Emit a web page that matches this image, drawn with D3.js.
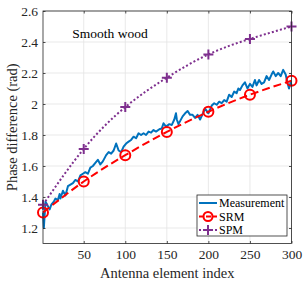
<!DOCTYPE html>
<html>
<head>
<meta charset="utf-8">
<script src="https://cdn.jsdelivr.net/npm/d3@7"></script>
<style>
  html, body { margin: 0; padding: 0; background: #fff; }
  svg { display: block; font-family: "Liberation Serif", "Times New Roman", serif; }
</style>
</head>
<body>
<svg id="chart" width="305" height="282"></svg>
<script>
// ---------- data ----------
const xTicks = [50, 100, 150, 200, 250, 300];
const yTicks = [1.2, 1.4, 1.6, 1.8, 2.0, 2.2, 2.4, 2.6];

const modelIndex = [1, 50, 100, 150, 200, 250, 300];
const srmValues  = [1.30, 1.50, 1.67, 1.82, 1.95, 2.06, 2.15];
const spmValues  = [1.35, 1.71, 1.98, 2.17, 2.32, 2.42, 2.50];

const measIndex = [1, 2, 4, 6, 9, 11, 14, 16, 19, 21, 22, 25, 28, 31, 34, 37, 40, 43, 46, 49,
  52, 55, 58, 61, 64, 67, 70, 73, 77, 80, 83, 86, 89, 92, 95, 98, 101, 104, 107, 110,
  113, 116, 119, 122, 125, 128, 131, 134, 137, 141, 144, 146, 149, 153, 156, 159, 161, 162, 164, 169,
  172, 175, 178, 181, 184, 187, 190, 193, 196, 200, 204, 207, 210, 213, 216, 219, 222, 225, 228, 231,
  234, 236, 238, 241, 244, 247, 250, 253, 256, 258, 261, 264, 267, 270, 273, 276, 278, 281, 284, 287,
  290, 293, 295, 297, 299, 300];
const measValues = [1.30, 1.20, 1.37, 1.35, 1.32, 1.35, 1.37, 1.39, 1.38, 1.42, 1.39, 1.44, 1.41, 1.47, 1.48, 1.49, 1.51, 1.50, 1.54, 1.55,
  1.56, 1.55, 1.59, 1.60, 1.62, 1.64, 1.61, 1.63, 1.67, 1.69, 1.68, 1.70, 1.745, 1.70, 1.69, 1.725, 1.745, 1.757, 1.768, 1.789,
  1.779, 1.811, 1.80, 1.811, 1.80, 1.822, 1.815, 1.832, 1.822, 1.837, 1.843, 1.876, 1.854, 1.87, 1.865, 1.90, 1.94, 1.90, 1.87, 1.92,
  1.94, 1.955, 1.93, 1.93, 1.91, 1.93, 1.90, 1.935, 1.97, 1.94, 1.99, 2.005, 1.995, 2.015, 2.005, 2.025, 2.015, 2.06, 2.045, 2.08,
  2.07, 2.10, 2.09, 2.12, 2.14, 2.10, 2.13, 2.11, 2.155, 2.12, 2.155, 2.13, 2.14, 2.18, 2.155, 2.19, 2.21, 2.18, 2.20, 2.18,
  2.22, 2.19, 2.14, 2.10, 2.14, 2.12];

const seriesNames = ["Measurement", "SRM", "SPM"];

// ---------- layout ----------
const svg = d3.select("#chart");
const pL = 43, pR = 291.5, pT = 11, pB = 243.5;
const axisColor = "#262626";
const gridColor = "#e3e3e3";
const cBlue = "#0072BD", cRed = "#FF0000", cPurple = "#7E2F8E";

const x = d3.scaleLinear().domain([1, 300]).range([pL, pR]);
const y = d3.scaleLinear().domain([1.1, 2.6]).range([pB, pT]);

// grid
const g = svg.append("g");
g.selectAll("line.gx").data(xTicks).join("line")
  .attr("x1", d => x(d)).attr("x2", d => x(d))
  .attr("y1", pT).attr("y2", pB)
  .attr("stroke", gridColor).attr("stroke-width", 0.8);
g.selectAll("line.gy").data(yTicks).join("line")
  .attr("y1", d => y(d)).attr("y2", d => y(d))
  .attr("x1", pL).attr("x2", pR)
  .attr("stroke", gridColor).attr("stroke-width", 0.8);

// series
const lineM = d3.line().x((d, i) => x(measIndex[i])).y(d => y(d));
svg.append("path").datum(measValues)
  .attr("d", lineM).attr("fill", "none")
  .attr("stroke", cBlue).attr("stroke-width", 2).attr("stroke-linejoin", "round");

const lineModel = vals => d3.line().curve(d3.curveNatural)
  .x((d, i) => x(modelIndex[i])).y(d => y(d))(vals);

svg.append("path").attr("d", lineModel(srmValues))
  .attr("fill", "none").attr("stroke", cRed).attr("stroke-width", 2)
  .attr("stroke-dasharray", "8,4");
svg.append("g").selectAll("circle").data(srmValues).join("circle")
  .attr("cx", (d, i) => x(modelIndex[i])).attr("cy", d => y(d)).attr("r", 5)
  .attr("fill", "none").attr("stroke", cRed).attr("stroke-width", 2);

svg.append("path").attr("d", lineModel(spmValues))
  .attr("fill", "none").attr("stroke", cPurple).attr("stroke-width", 2)
  .attr("stroke-dasharray", "2,2.2");
const plus = svg.append("g");
spmValues.forEach((d, i) => {
  const cx = x(modelIndex[i]), cy = y(d), s = 5;
  plus.append("path")
    .attr("d", `M${cx - s},${cy}H${cx + s}M${cx},${cy - s}V${cy + s}`)
    .attr("stroke", cPurple).attr("stroke-width", 2);
});

// axes box
svg.append("rect").attr("x", pL).attr("y", pT)
  .attr("width", pR - pL).attr("height", pB - pT)
  .attr("fill", "none").attr("stroke", axisColor).attr("stroke-width", 0.8);

// ticks (inward) using d3 axes
const xAxis = svg.append("g").attr("transform", `translate(0,${pB})`)
  .call(d3.axisBottom(x).tickValues(xTicks).tickSizeInner(-2.5).tickSizeOuter(0).tickPadding(6));
const xAxisTop = svg.append("g").attr("transform", `translate(0,${pT})`)
  .call(d3.axisTop(x).tickValues(xTicks).tickSizeInner(-2.5).tickSizeOuter(0).tickFormat(""));
const yAxis = svg.append("g").attr("transform", `translate(${pL},0)`)
  .call(d3.axisLeft(y).tickValues(yTicks).tickSizeInner(-2.5).tickSizeOuter(0).tickPadding(5)
    .tickFormat(d => d3.format("~g")(d)));
const yAxisR = svg.append("g").attr("transform", `translate(${pR},0)`)
  .call(d3.axisRight(y).tickValues(yTicks).tickSizeInner(-2.5).tickSizeOuter(0).tickFormat(""));

[xAxis, xAxisTop, yAxis, yAxisR].forEach(a => {
  a.select(".domain").remove();
  a.selectAll("line").attr("stroke", axisColor).attr("stroke-width", 0.8);
  a.selectAll("text").attr("fill", axisColor)
    .style("font-family", "Liberation Serif, serif").style("font-size", "13.5px");
});

// labels
svg.append("text").attr("x", (pL + pR) / 2).attr("y", 278)
  .attr("text-anchor", "middle").attr("fill", axisColor)
  .style("font-size", "14.5px").text("Antenna element index");
svg.append("text").attr("transform", `translate(17,${(pT + pB) / 2}) rotate(-90)`)
  .attr("text-anchor", "middle").attr("fill", axisColor)
  .style("font-size", "14.5px").text("Phase difference (rad)");
svg.append("text").attr("x", 110).attr("y", 38)
  .attr("text-anchor", "middle").attr("fill", "#000")
  .style("font-size", "13.5px").text("Smooth wood");

// legend
const lg = svg.append("g");
lg.append("rect").attr("x", 197).attr("y", 195).attr("width", 90).attr("height", 41)
  .attr("fill", "#fff").attr("stroke", axisColor).attr("stroke-width", 0.8);
const rowsY = [203, 216.5, 230];
const colors = [cBlue, cRed, cPurple];
const dashes = [null, "5,2", "2,2"];
seriesNames.forEach((name, i) => {
  const ly = rowsY[i];
  lg.append("line").attr("x1", 199).attr("x2", 217).attr("y1", ly).attr("y2", ly)
    .attr("stroke", colors[i]).attr("stroke-width", 2).attr("stroke-dasharray", dashes[i]);
  if (i === 1) {
    lg.append("circle").attr("cx", 208).attr("cy", ly).attr("r", 4.5)
      .attr("fill", "none").attr("stroke", cRed).attr("stroke-width", 2);
  }
  if (i === 2) {
    lg.append("path").attr("d", `M203,${ly}H213M208,${ly - 5}V${ly + 5}`)
      .attr("stroke", cPurple).attr("stroke-width", 2);
  }
  lg.append("text").attr("x", 219).attr("y", ly + 4.2).attr("fill", "#000")
    .style("font-size", "12px").text(name);
});
</script>
</body>
</html>
